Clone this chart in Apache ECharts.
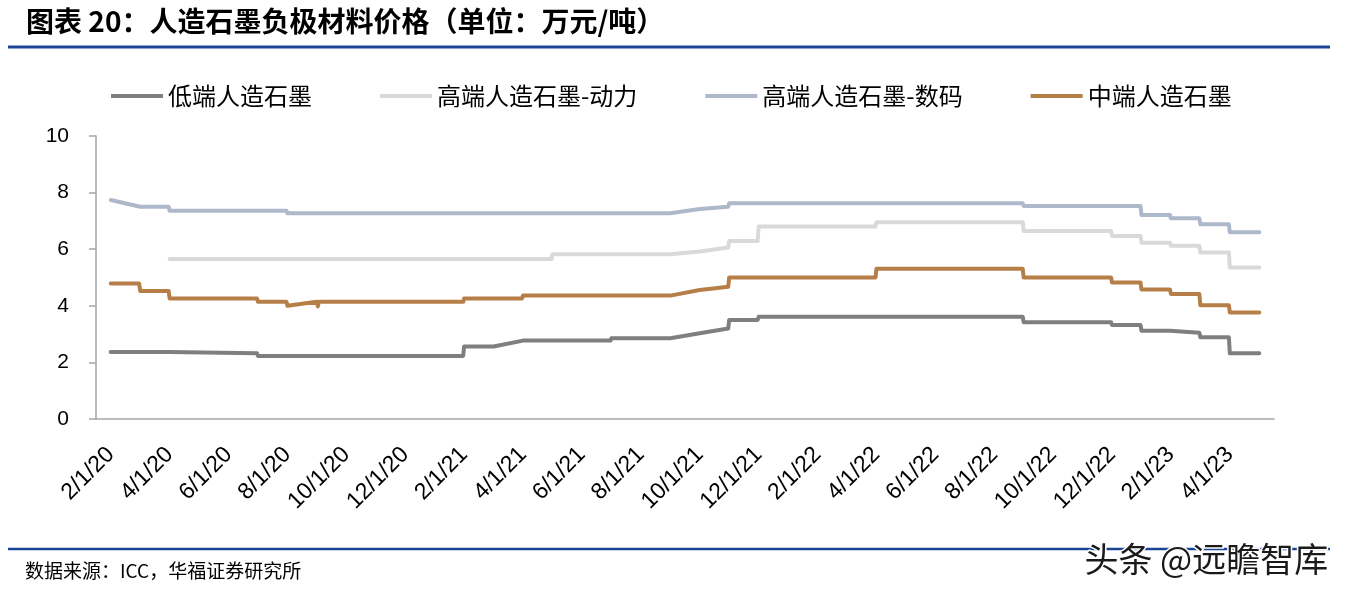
<!DOCTYPE html>
<html>
<head>
<meta charset="utf-8">
<script src="https://cdn.jsdelivr.net/npm/echarts@6/dist/echarts.min.js"></script>
<style>html,body{margin:0;padding:0;background:#fff}#c{width:1348px;height:595px}</style>
</head>
<body>
<div id="c"></div>
<script>
// ---- data ----
const categories = ['2/1/20','3/1/20','4/1/20','5/1/20','6/1/20','7/1/20','8/1/20','9/1/20','10/1/20','11/1/20','12/1/20','1/1/21',
  '2/1/21','3/1/21','4/1/21','5/1/21','6/1/21','7/1/21','8/1/21','9/1/21','10/1/21','11/1/21','12/1/21','1/1/22',
  '2/1/22','3/1/22','4/1/22','5/1/22','6/1/22','7/1/22','8/1/22','9/1/22','10/1/22','11/1/22','12/1/22','1/1/23',
  '2/1/23','3/1/23','4/1/23','5/1/23'];
const seriesNames = ['低端人造石墨','高端人造石墨-动力','高端人造石墨-数码','中端人造石墨'];
const yTicks = [0,2,4,6,8,10];

const lowDates = ['2020-02-01','2020-03-31','2020-04-01','2020-06-30','2020-07-01','2021-01-31','2021-02-01','2021-03-01','2021-04-01','2021-06-30','2021-07-01','2021-09-01','2021-10-01','2021-10-31','2021-11-01','2021-11-30','2021-12-01','2022-08-31','2022-09-01','2022-11-30','2022-12-01','2022-12-31','2023-01-01','2023-01-31','2023-02-01','2023-02-28','2023-03-01','2023-03-31','2023-04-01','2023-05-01'];
const lowValues = [2.37,2.37,2.32,2.32,2.23,2.23,2.56,2.56,2.77,2.77,2.85,2.85,3.03,3.20,3.50,3.50,3.61,3.61,3.42,3.42,3.32,3.32,3.12,3.12,3.05,3.05,2.89,2.89,2.32,2.32];

const powerDates = ['2020-04-01','2021-04-30','2021-05-01','2021-09-01','2021-10-01','2021-10-31','2021-11-01','2021-11-30','2021-12-01','2022-03-31','2022-04-01','2022-08-31','2022-09-01','2022-11-30','2022-12-01','2022-12-31','2023-01-01','2023-01-31','2023-02-01','2023-02-28','2023-03-01','2023-03-31','2023-04-01','2023-05-01'];
const powerValues = [5.65,5.65,5.82,5.82,5.92,6.06,6.29,6.29,6.80,6.80,6.95,6.95,6.64,6.64,6.47,6.47,6.23,6.23,6.12,6.12,5.88,5.88,5.35,5.35];

const digitalDates = ['2020-02-01','2020-03-01','2020-03-31','2020-04-01','2020-07-31','2020-08-01','2021-09-01','2021-10-01','2021-10-31','2021-11-01','2022-08-31','2022-09-01','2022-12-31','2023-01-01','2023-01-31','2023-02-01','2023-02-28','2023-03-01','2023-03-31','2023-04-01','2023-05-01'];
const digitalValues = [7.74,7.50,7.50,7.36,7.36,7.27,7.27,7.42,7.50,7.62,7.62,7.53,7.53,7.21,7.21,7.09,7.09,6.88,6.88,6.60,6.60];

const midDates = ['2020-02-01','2020-02-29','2020-03-01','2020-03-31','2020-04-01','2020-06-30','2020-07-01','2020-07-31','2020-08-01','2020-09-01','2020-09-02','2020-09-03','2021-01-31','2021-02-01','2021-03-31','2021-04-01','2021-09-01','2021-10-01','2021-10-31','2021-11-01','2022-03-31','2022-04-01','2022-08-31','2022-09-01','2022-11-30','2022-12-01','2022-12-31','2023-01-01','2023-01-31','2023-02-01','2023-02-28','2023-03-01','2023-03-31','2023-04-01','2023-05-01'];
const midValues = [4.79,4.79,4.52,4.52,4.26,4.26,4.14,4.14,4.00,4.14,3.98,4.14,4.14,4.26,4.26,4.36,4.36,4.56,4.67,5.00,5.00,5.31,5.31,5.00,5.00,4.82,4.82,4.58,4.58,4.42,4.42,4.02,4.02,3.76,3.76];

// ---- helpers ----
// fractional month index, 2020-02-01 = 0
function monthPos(s) {
  const [y, m, d] = s.split('-').map(Number);
  const dim = new Date(y, m, 0).getDate();
  return (y - 2020) * 12 + (m - 2) + (d - 1) / dim;
}
function pairs(dates, vals) { return dates.map((d, i) => [monthPos(d), vals[i]]); }

const colors = ['#7f7f7f', '#d9d9d9', '#adb9ca', '#b77f48'];
const dataSets = [pairs(lowDates, lowValues), pairs(powerDates, powerValues), pairs(digitalDates, digitalValues), pairs(midDates, midValues)];

const chart = echarts.init(document.getElementById('c'), null, {renderer: 'canvas'});
const blue = '#1a4494';
chart.setOption({
  animation: false,
  backgroundColor: '#fff',
  title: {
    text: '图表 20：人造石墨负极材料价格（单位：万元/吨）',
    left: 21, top: 2,
    textStyle: {fontSize: 28, fontWeight: 'bold', color: '#000', fontFamily: '"Noto Sans CJK SC", "Liberation Sans", sans-serif'}
  },
  legend: {
    left: 106, top: 79,
    itemGap: 68, itemWidth: 52, itemHeight: 4,
    icon: 'rect',
    textStyle: {fontSize: 24, color: '#000', fontFamily: '"Noto Sans CJK SC", sans-serif'},
    data: seriesNames
  },
  grid: {left: 96, right: 74, top: 136, bottom: 176, containLabel: false},
  xAxis: [
    {
      type: 'category', data: categories, boundaryGap: true,
      axisLine: {lineStyle: {color: '#a6a6a6', width: 1.5}},
      axisTick: {show: false},
      axisLabel: {interval: 1, rotate: 45, margin: 32, fontSize: 23, color: '#000', fontFamily: '"Liberation Sans", Arial, sans-serif'},
      splitLine: {show: false}
    },
    {type: 'value', min: -0.5, max: categories.length - 0.5, show: false, splitLine: {show: false}}
  ],
  yAxis: {
    type: 'value', min: yTicks[0], max: yTicks[yTicks.length - 1], interval: 2,
    axisLine: {show: true, onZero: false, lineStyle: {color: '#a6a6a6', width: 1.5}},
    axisTick: {show: true, length: 7, lineStyle: {color: '#a6a6a6', width: 1.5}},
    axisLabel: {margin: 27, fontSize: 21, color: '#000', fontFamily: '"Liberation Sans", Arial, sans-serif'},
    splitLine: {show: false}
  },
  series: seriesNames.map((n, i) => ({
    name: n, type: 'line', xAxisIndex: 1, data: dataSets[i],
    showSymbol: false, symbol: 'none',
    itemStyle: {color: colors[i]},
    lineStyle: {color: colors[i], width: 4, cap: 'round', join: 'round'}
  })),
  graphic: [
    {type: 'line', shape: {x1: 8, y1: 47, x2: 1330, y2: 47}, style: {stroke: blue, lineWidth: 3}},
    {type: 'line', shape: {x1: 8, y1: 549, x2: 1330, y2: 549}, style: {stroke: blue, lineWidth: 2.5}},
    {type: 'text', left: 25, top: 561, style: {text: '数据来源：ICC，华福证券研究所', fontSize: 19, fill: '#000', fontFamily: '"Noto Sans CJK SC", sans-serif'}},
    {type: 'text', left: 1083, top: 541, z: 100, style: {text: '头条 @远瞻智库', fontSize: 34, fill: '#1a1a1a', stroke: '#fff', lineWidth: 3, fontFamily: '"Noto Sans CJK SC", sans-serif'}}
  ]
});
</script>
</body>
</html>
